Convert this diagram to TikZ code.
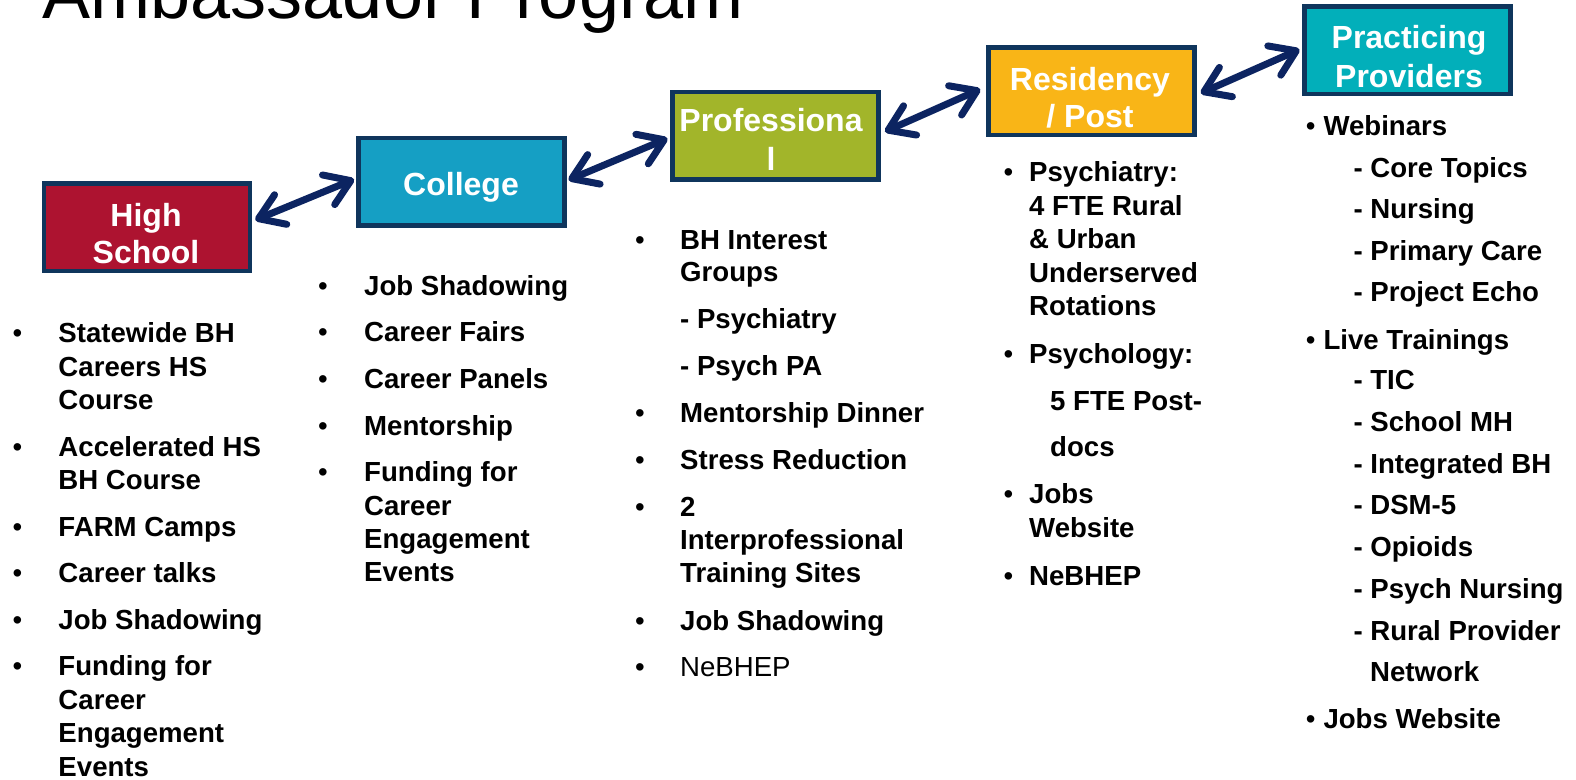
\documentclass[tikz,border=0pt]{standalone}
\usepackage{fontspec}
\setmainfont{Liberation Sans}
\usetikzlibrary{arrows.meta}
\definecolor{hscol}{HTML}{AD1330}
\definecolor{colcol}{HTML}{159FC4}
\definecolor{profcol}{HTML}{A2B52A}
\definecolor{rescol}{HTML}{F9B517}
\definecolor{praccol}{HTML}{02AFBA}
\definecolor{bordercol}{HTML}{0F355C}
\definecolor{arrowcol}{HTML}{0C2461}
\begin{document}
\begin{tikzpicture}[x=1bp,y=-1bp,
  stage/.style={draw=bordercol, line width=4.5bp, minimum width=206bp, minimum height=87.5bp, inner sep=0},
  lbl/.style={anchor=base, text=white, inner sep=0, font=\fontsize{32bp}{38bp}\selectfont\bfseries},
  it/.style={anchor=base west, inner sep=0, font=\fontsize{27.6bp}{33bp}\selectfont\bfseries},
  itreg/.style={anchor=base west, inner sep=0, font=\fontsize{27.6bp}{33bp}\selectfont},
  bul/.style={anchor=base, inner sep=0, font=\fontsize{27.6bp}{33bp}\selectfont},
  link/.style={draw=arrowcol, line width=7bp,
    {Straight Barb[length=24bp,width=32bp,round]}-{Straight Barb[length=24bp,width=32bp,round]}}
]
\useasboundingbox (0,0) rectangle (1576,780);

% title
\node[anchor=base west, inner sep=0, font=\fontsize{72bp}{72bp}\selectfont] (title) at (42.7,18.3) {Ambassador Program};

% stage boxes
\node[stage, fill=hscol] (hs) at (147,227) {};
\node[stage, fill=colcol] (col) at (461.3,181.7) {};
\node[stage, fill=profcol] (prof) at (775.7,135.6) {};
\node[stage, fill=rescol] (res) at (1091.5,91.2) {};
\node[stage, fill=praccol] (prac) at (1407.7,50.4) {};

% stage labels
\node[lbl] (hsl1) at (146,226) {High};
\node[lbl] (hsl2) at (146,263.3) {School};
\node[lbl] (coll1) at (461,195) {College};
\node[lbl] (profl1) at (771,131.7) {Professiona};
\node[lbl] (profl2) at (771,170) {l};
\node[lbl] (resl1) at (1090,90) {Residency};
\node[lbl] (resl2) at (1090,127.3) {/ Post};
\node[lbl] (pracl1) at (1409,48.3) {Practicing};
\node[lbl] (pracl2) at (1409,87.3) {Providers};

% connectors
\draw[link] ([shift={(3,-7)}]hs.east) -- ([shift={(-2,-2.4)}]col.west);
\draw[link] ([shift={(2,-1.7)}]col.east) -- ([shift={(-3,2.8)}]prof.west);
\draw[link] ([shift={(4,-4)}]prof.east) -- ([shift={(-6,-2)}]res.west);
\draw[link] ([shift={(4,2)}]res.east) -- ([shift={(-3,-1)}]prac.west);

% High School list
\foreach \yy/\tt [count=\i] in {342.5/Statewide BH, 376/Careers HS, 409.5/Course,
  456/Accelerated HS, 489.5/BH Course, 536/FARM Camps, 582.5/Career talks,
  629/Job Shadowing, 675.5/Funding for, 709/Career, 742.5/Engagement, 776/Events}
  {\node[it] (hs\i) at (58.3,\yy) {\tt};}
\foreach \yy [count=\i] in {342.5,456,536,582.5,629,675.5}
  {\node[bul] (hsb\i) at (17.5,\yy) {•};}

% College list
\foreach \yy/\tt [count=\i] in {295/Job Shadowing, 341.7/Career Fairs, 388.3/Career Panels,
  435/Mentorship, 481.7/Funding for, 515/Career, 548.3/Engagement, 581.7/Events}
  {\node[it] (co\i) at (364,\yy) {\tt};}
\foreach \yy [count=\i] in {295,341.7,388.3,435,481.7}
  {\node[bul] (cob\i) at (323,\yy) {•};}

% Professional list
\foreach \yy/\tt [count=\i] in {249.3/BH Interest, 281.7/Groups, 328/- Psychiatry,
  375/- Psych PA, 422.7/Mentorship Dinner, 469.3/Stress Reduction, 516.7/2,
  549.3/Interprofessional, 582.7/Training Sites, 630/Job Shadowing}
  {\node[it] (pr\i) at (680,\yy) {\tt};}
\node[itreg] (pr11) at (680,676.7) {NeBHEP};
\foreach \yy [count=\i] in {249.3,422.7,469.3,516.7,630,676.7}
  {\node[bul] (prb\i) at (640,\yy) {•};}

% Residency list
\foreach \yy/\tt [count=\i] in {181.7/Psychiatry:, 215.2/4 FTE Rural, 248.7/\& Urban,
  282.2/Underserved, 315.7/Rotations, 363.3/Psychology:, 503.3/Jobs,
  537.7/Website, 585/NeBHEP}
  {\node[it] (re\i) at (1029,\yy) {\tt};}
\node[it] (re10) at (1050,410) {5 FTE Post-};
\node[it] (re11) at (1050,456.7) {docs};
\foreach \yy [count=\i] in {181.7,363.3,503.3,585}
  {\node[bul] (reb\i) at (1008.5,\yy) {•};}

% Practicing list
\foreach \yy/\tt [count=\i] in {135/Webinars, 349/Live Trainings, 728.5/Jobs Website}
  {\node[it] (pm\i) at (1323.3,\yy) {\tt};}
\foreach \yy [count=\i] in {135,349,728.5}
  {\node[bul] (pmb\i) at (1310.7,\yy) {•};}
\foreach \yy/\tt [count=\i] in {177/- Core Topics, 218.5/- Nursing, 260/- Primary Care,
  301.5/- Project Echo, 389/- TIC, 431/- School MH, 473/- Integrated BH,
  514/- DSM-5, 556.5/- Opioids, 598/- Psych Nursing, 640/- Rural Provider}
  {\node[it] (ps\i) at (1353.3,\yy) {\tt};}
\node[it] (ps12) at (1370,681.5) {Network};
\end{tikzpicture}
\end{document}
